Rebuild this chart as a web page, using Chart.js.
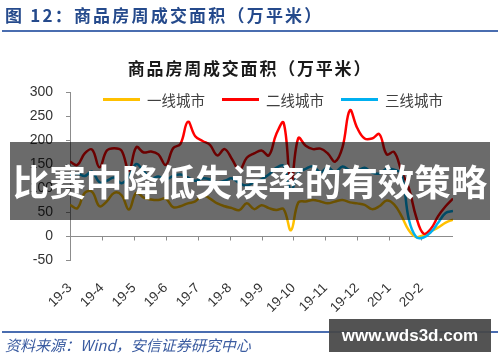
<!DOCTYPE html>
<html><head><meta charset="utf-8">
<script src="https://cdn.jsdelivr.net/npm/chart.js@4.4.1/dist/chart.umd.min.js"></script>
<style>
html,body{margin:0;padding:0;background:#fff;}
#wrap{position:relative;width:500px;height:362px;overflow:hidden;font-family:"Noto Sans CJK SC","Noto Sans",sans-serif;}
canvas{position:absolute;left:0;top:0;}
.abs{position:absolute;white-space:nowrap;}
#hdr{left:5px;top:3px;font-size:17px;font-weight:bold;color:#254a8c;letter-spacing:2.2px;line-height:24px;}
#hline{left:2px;top:30px;width:496px;height:2px;background:#4a6db0;}
#ttl{left:0;width:500px;text-align:center;top:56px;font-size:17px;font-weight:bold;color:#1a1a1a;letter-spacing:1.8px;line-height:24px;}
#band{left:10px;top:142px;width:480px;height:78px;background:rgba(0,0,0,0.58);}
#bandtxt{left:0;width:500px;text-align:center;top:142px;height:78px;line-height:78px;font-size:36.5px;font-weight:bold;color:#fff;}
#fline{left:2px;top:331px;width:496px;height:2px;background:#4a6db0;}
#src{left:5px;top:335px;font-size:15px;font-style:italic;color:#3a5ba0;line-height:20px;}
#wm{left:329px;top:319px;width:162px;height:33px;background:rgba(70,70,70,0.93);color:#fff;font-family:"Liberation Sans",Arial,sans-serif;font-weight:bold;font-size:17px;line-height:33px;text-align:center;}
</style></head>
<body>
<div id="wrap">
  <canvas id="c" width="500" height="362"></canvas>
  <div class="abs" id="hdr">图 12：商品房周成交面积（万平米）</div>
  <div class="abs" id="hline"></div>
  <div class="abs" id="ttl">商品房周成交面积（万平米）</div>
  <div class="abs" id="band"></div>
  <div class="abs" id="bandtxt">比赛中降低失误率的有效策略</div>
  <div class="abs" id="fline"></div>
  <div class="abs" id="src">资料来源：Wind，安信证券研究中心</div>
  <div class="abs" id="wm">www.wds3d.com</div>
</div>
<script>
// ---- data ----
const monthLabels = ['19-3','19-4','19-5','19-6','19-7','19-8','19-9','19-10','19-11','19-12','20-1','20-2'];
const seriesNames = ['一线城市','二线城市','三线城市'];
const seriesColors = ['#FFC000','#FF0000','#00B0F0'];
const weeksSpan = 52;          // weekly points 0..52
const yMin = -50, yMax = 300, yStep = 50;

const tier1 = [65,58,90,92,62,72,90,85,55,90,80,76,75,78,60,62,68,72,85,78,68,62,58,54,68,56,64,58,54,56,12,70,72,75,72,68,72,75,70,68,65,56,62,74,66,42,12,-2,2,10,18,28,34];
const tier2 = [155,148,172,180,143,178,183,178,136,185,174,176,170,148,183,192,238,208,198,190,168,181,160,137,163,172,178,168,212,236,110,204,188,181,182,172,155,185,262,225,203,203,212,170,175,135,100,40,5,15,42,62,78];
const tier3 = [126,130,125,134,112,115,122,110,124,150,135,120,124,118,125,128,122,115,120,118,112,115,120,110,105,112,118,128,142,146,95,132,140,145,133,143,133,145,137,136,142,132,130,140,138,130,35,-2,-3,8,28,48,52];

const toPts = arr => arr.map((v, i) => ({x: i, y: v}));

const zeroAxis = {
  id: 'zeroAxis',
  beforeDatasetsDraw(chart) {
    const {ctx, chartArea, scales: {x, y}} = chart;
    const y0 = Math.round(y.getPixelForValue(0)) + 0.5;
    ctx.save();
    ctx.strokeStyle = '#8c8c8c'; ctx.lineWidth = 1;
    ctx.beginPath();
    ctx.moveTo(chartArea.left, y0); ctx.lineTo(chartArea.right, y0);
    x.ticks.forEach(t => {
      const px = Math.round(x.getPixelForValue(t.value)) + 0.5;
      ctx.moveTo(px, y0); ctx.lineTo(px, y0 + 4);
    });
    ctx.stroke();
    ctx.restore();
  }
};

const lineLegend = {
  id: 'lineLegend',
  afterDraw(chart) {
    const ctx = chart.ctx;
    ctx.save();
    ctx.font = '14.5px "Noto Sans CJK SC"';
    ctx.textBaseline = 'middle';
    let x = 103; const y = 99.5;
    chart.data.datasets.forEach(ds => {
      ctx.strokeStyle = ds.borderColor; ctx.lineWidth = 3;
      ctx.beginPath(); ctx.moveTo(x, y); ctx.lineTo(x + 37, y); ctx.stroke();
      ctx.fillStyle = '#404040';
      ctx.fillText(ds.label, x + 44, y + 1);
      x += 44 + ctx.measureText(ds.label).width + 17;
    });
    ctx.restore();
  }
};

const series = [tier1, tier2, tier3];
new Chart(document.getElementById('c'), {
  type: 'line',
  data: {
    datasets: series.map((arr, k) => ({
      label: seriesNames[k],
      data: toPts(arr),
      borderColor: seriesColors[k],
      backgroundColor: seriesColors[k],
      borderWidth: 2.5,
      pointRadius: 0,
      tension: 0.4,
      fill: false,
      order: 3 - k
    }))
  },
  options: {
    responsive: false,
    animation: false,
    devicePixelRatio: 1,
    layout: {padding: {left: 0, right: 47, top: 92, bottom: 0}},
    plugins: {legend: {display: false}, title: {display: false}, tooltip: {enabled: false}},
    scales: {
      x: {
        type: 'linear', min: 0, max: weeksSpan,
        afterBuildTicks(s) { s.ticks = monthLabels.map((_, i) => ({value: i * weeksSpan / 12})); },
        ticks: {
          autoSkip: false, minRotation: 45, maxRotation: 45, padding: 20,
          color: '#333', font: {family: '"Liberation Sans", Arial, sans-serif', size: 13.5},
          callback: (v, i) => monthLabels[i]
        },
        grid: {display: false, drawTicks: false},
        border: {display: false},
        afterFit(s) { s.height = 102; }
      },
      y: {
        min: yMin, max: yMax,
        ticks: {stepSize: yStep, padding: 13, color: '#333', font: {family: '"Liberation Sans", Arial, sans-serif', size: 14}},
        grid: {drawOnChartArea: false, drawTicks: true, tickLength: 4, color: '#8c8c8c'},
        border: {display: true, color: '#8c8c8c'},
        afterFit(s) { s.width = 70; }
      }
    }
  },
  plugins: [zeroAxis, lineLegend]
});
</script>
</body></html>
